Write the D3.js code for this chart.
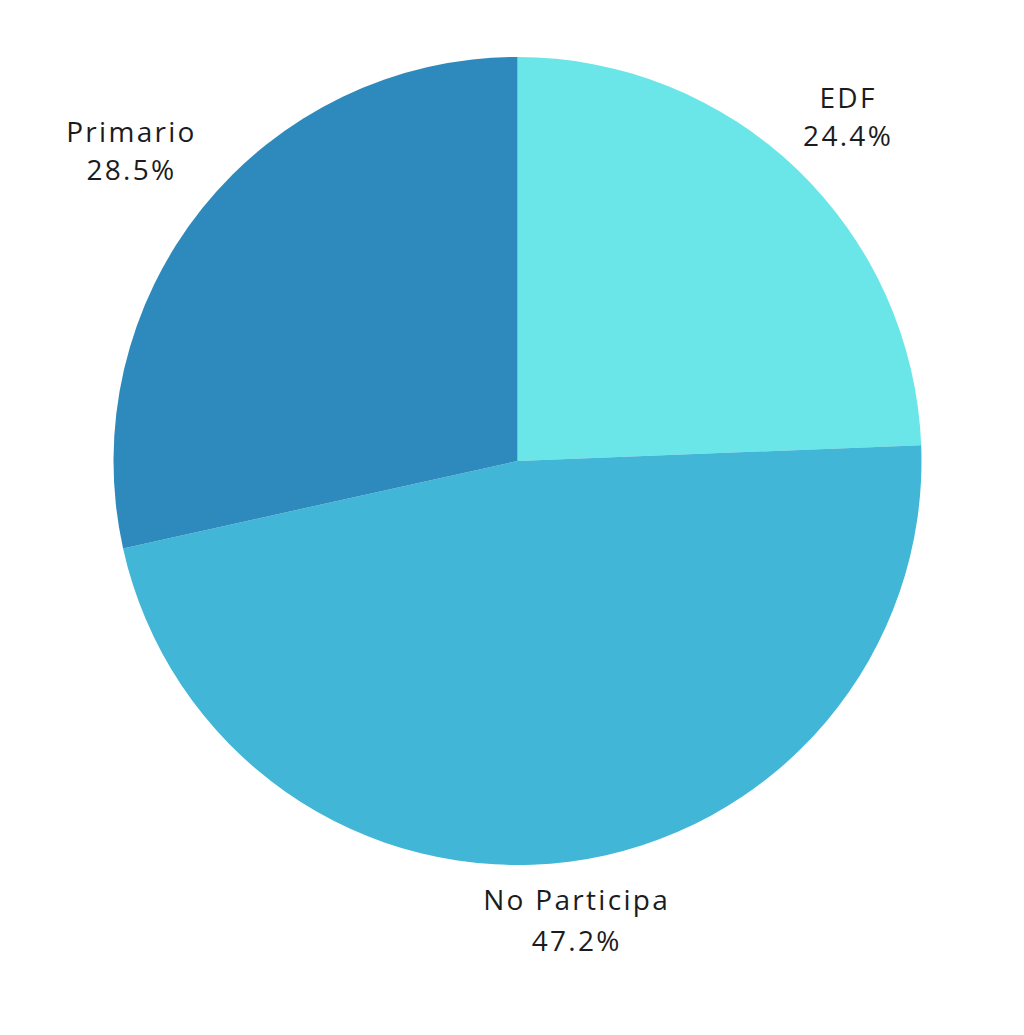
<!DOCTYPE html>
<html>
<head>
<meta charset="utf-8">
<script src="https://cdn.jsdelivr.net/npm/d3@7"></script>
<style>
  body { margin: 0; background: #fff; }
  svg text { font-family: "Open Sans", "Lato", sans-serif; fill: #1c1c1c; }
</style>
</head>
<body>
<svg id="chart"></svg>
<script>
// data
var categories = ["EDF", "No Participa", "Primario"];
var values = [24.4, 47.2, 28.5];
var colors = ["#6ae6e9", "#42b6d6", "#2e8abd"];

var width = 1024, height = 1035,
    cx = 517.5, cy = 461, radius = 404;

var svg = d3.select("svg#chart").attr("width", width).attr("height", height);
var g = svg.append("g").attr("transform", "translate(" + cx + "," + cy + ")");

var data = categories.map(function (c, i) { return { label: c, value: values[i] }; });

var pie = d3.pie().sort(null).value(function (d) { return d.value; });
var arc = d3.arc().innerRadius(0).outerRadius(radius);
var arcs = pie(data);

g.selectAll("path")
    .data(arcs)
    .enter().append("path")
    .attr("d", arc)
    .attr("fill", function (d, i) { return colors[i]; });

// label distance from center, per slice (layout only)
var labelR = [477, 461, 495];

var labels = g.selectAll("g.label")
    .data(arcs)
    .enter().append("g")
    .attr("class", "label")
    .attr("transform", function (d, i) {
        var a = (d.startAngle + d.endAngle) / 2;
        return "translate(" + (Math.sin(a) * labelR[i]) + "," + (-Math.cos(a) * labelR[i]) + ")";
    })
    .attr("text-anchor", "middle")
    .attr("font-size", 28)
    .attr("letter-spacing", 2.3);

labels.append("text")
    .attr("y", function (d, i) { return i == 1 ? -8 : -9; })
    .text(function (d) { return d.data.label; });

labels.append("text")
    .attr("y", function (d, i) { return i == 1 ? 33 : 29; })
    .text(function (d) { return d.data.value.toFixed(1) + "%"; });
</script>
</body>
</html>
